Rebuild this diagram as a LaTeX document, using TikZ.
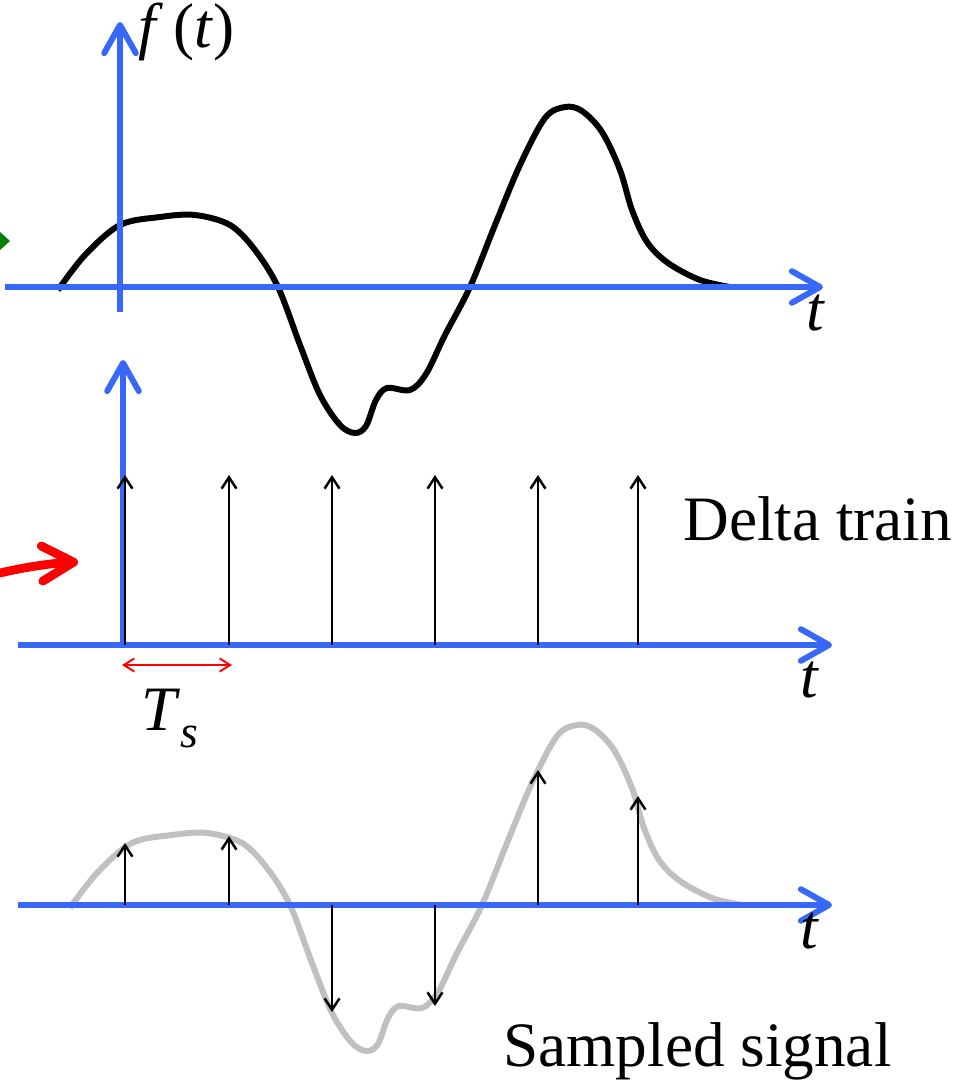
\documentclass[tikz,border=0pt]{standalone}
\usepackage{fontspec}
\setmainfont{Liberation Serif}
\usetikzlibrary{arrows.meta}
\definecolor{axisblue}{RGB}{56,104,250}
\definecolor{sampgray}{RGB}{192,192,192}
\definecolor{ptgreen}{RGB}{0,128,0}

\begin{document}
\begin{tikzpicture}[x=0.02cm,y=-0.02cm,
  axis/.style={axisblue,line width=3.4pt,-{Straight Barb[round,length=16pt,width=18pt]}},
  impulse/.style={black,line width=1.4pt,-{Straight Barb[length=6.5pt,width=8.5pt]}},
  signal/.style={line width=3.4pt,line join=round},
  lbl/.style={font=\fontsize{36}{40}\selectfont,inner sep=0pt}]
  % page in pixels
  \useasboundingbox (0,0) rectangle (957,1082);

  % the signal f(t)
  \def\signal{plot[smooth,tension=0.55] coordinates {
    (58,290) (85,255) (120,225) (160,217) (195,215) (230,225) (255,250)
    (278,287) (300,345) (320,395) (340,425) (355,433) (366,426) (376,400)
    (387,388) (410,390) (426,374) (445,335) (470,287) (495,225) (520,165)
    (545,118) (565,107) (582,111) (602,132) (620,170) (632,210) (647,242)
    (668,263) (700,280) (730,287)}}

  % top panel
  \draw[signal] \signal;
  \coordinate (o1) at (120,287);
  \draw[axis] (5,287) -- (823,287) coordinate (t1);
  \draw[axis] (120,312) -- (120,22) coordinate (f1);
  \node[lbl,anchor=base west] (ft) at (138,47) {\textit{f}\,(\textit{t})};
  \node[lbl,anchor=base west] (tt1) at (806,330) {\textit{t}};
  \fill[ptgreen] (0,232) -- (10,241) -- (0,250) -- cycle;

  % delta train
  \draw[axis] (123,645) -- (123,360) coordinate (d1);
  \draw[axis] (18,645) -- (832,645) coordinate (t2);
  \foreach \k in {125,229,332,435,538,638}
    \draw[impulse] (\k,645) -- (\k,475);
  \node[lbl,anchor=base west] (tt2) at (800,697) {\textit{t}};
  \node[lbl,anchor=base west] (dtrain) at (683,540) {Delta train};
  \draw[red,line width=1.1pt,{Straight Barb[length=6pt,width=7.5pt]}-{Straight Barb[length=6pt,width=7.5pt]}]
    (122,665) coordinate (ts0) -- (232,665) coordinate (ts1);
  \node[lbl,anchor=base west] (Ts) at (141,730)
    {\textit{T}\raisebox{-0.28em}{\fontsize{26}{28}\selectfont\textit{s}}};
  \draw[red,line width=5pt,line cap=round,-{Straight Barb[round,length=18pt,width=20pt]}]
    (0,573) .. controls (30,566) and (55,563) .. (78,562) coordinate (rd);

  % sampled signal
  \draw[signal,sampgray,shift={(12,618)}] \signal;
  \draw[axis] (18,905) -- (832,905) coordinate (t3);
  \draw[impulse] (125,905) -- (125,843);
  \draw[impulse] (229,905) -- (229,836);
  \draw[impulse] (332,905) -- (332,1012);
  \draw[impulse] (435,905) -- (435,1006);
  \draw[impulse] (538,905) -- (538,770);
  \draw[impulse] (638,905) -- (638,796);
  \node[lbl,anchor=base west] (tt3) at (800,948) {\textit{t}};
  \node[lbl,anchor=base west] (sampled) at (503,1066) {Sampled signal};
\end{tikzpicture}
\end{document}
